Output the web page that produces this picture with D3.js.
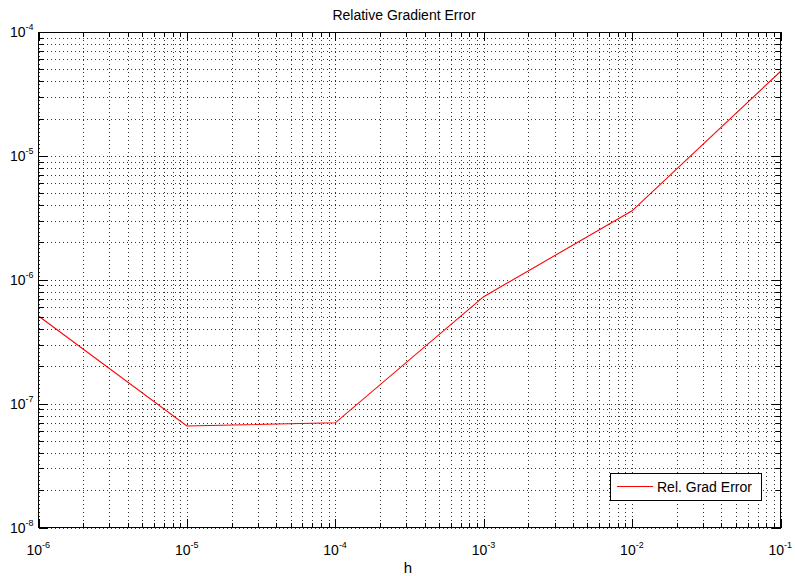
<!DOCTYPE html>
<html><head><meta charset="utf-8">
<script src="https://cdn.jsdelivr.net/npm/d3@7/dist/d3.min.js"></script>
<style>
body{margin:0;background:#fff;}
text{font-family:"Liberation Sans",Arial,sans-serif;fill:#000;}
</style></head>
<body>
<script>
const hValues = [1e-6, 1e-5, 1e-4, 1e-3, 1e-2, 1e-1];
const relGradError = [5.1e-7, 6.6e-8, 7.0e-8, 7.3e-7, 3.6e-6, 4.8e-5];
const xTickExps = [-6, -5, -4, -3, -2, -1];
const yTickExps = [-8, -7, -6, -5, -4];
const titleText = "Relative Gradient Error";
const xLabelText = "h";
const legendText = "Rel. Grad Error";

const W = 795, H = 576;
const m = {left: 38.5, right: 780.5, top: 32, bottom: 527.5};

const svg = d3.select("body").append("svg").attr("width", W).attr("height", H);

const x = d3.scaleLog().domain([1e-6, 1e-1]).range([m.left, m.right]);
const y = d3.scaleLog().domain([1e-8, 1e-4]).range([m.bottom, m.top]);

function logTicks(lo, hi){
  const major = [], minor = [];
  for(let e = lo; e <= hi; e++){
    major.push(Math.pow(10, e));
    if(e < hi) for(let k = 2; k <= 9; k++) minor.push(k * Math.pow(10, e));
  }
  return {major, minor};
}
const xt = logTicks(xTickExps[0], xTickExps[xTickExps.length-1]);
const yt = logTicks(yTickExps[0], yTickExps[yTickExps.length-1]);

const grid = svg.append("g").attr("stroke", "#000").attr("stroke-width", 1)
  .attr("stroke-dasharray", "1,3").attr("shape-rendering", "crispEdges").attr("opacity", 0.8);
xt.major.concat(xt.minor).forEach(v => {
  const px = Math.round(x(v)) + 0.5;
  grid.append("line").attr("x1", px).attr("x2", px).attr("y1", m.top).attr("y2", m.bottom);
});
yt.major.concat(yt.minor).forEach(v => {
  const py = Math.round(y(v)) + 0.5;
  grid.append("line").attr("y1", py).attr("y2", py).attr("x1", m.left).attr("x2", m.right);
});

const line = d3.line().x((d,i) => x(hValues[i])).y(d => y(d));
svg.append("path").datum(relGradError).attr("d", line)
  .attr("fill", "none").attr("stroke", "#ff0000").attr("stroke-width", 1.1);

const tk = svg.append("g").attr("stroke", "#000").attr("stroke-width", 1).attr("shape-rendering", "crispEdges");
function xTicks(vals, len){
  vals.forEach(v => {
    const px = Math.round(x(v)) + 0.5;
    tk.append("line").attr("x1", px).attr("x2", px).attr("y1", m.bottom).attr("y2", m.bottom - len);
    tk.append("line").attr("x1", px).attr("x2", px).attr("y1", m.top).attr("y2", m.top + len);
  });
}
function yTicks(vals, len){
  vals.forEach(v => {
    const py = Math.round(y(v)) + 0.5;
    tk.append("line").attr("y1", py).attr("y2", py).attr("x1", m.left).attr("x2", m.left + len);
    tk.append("line").attr("y1", py).attr("y2", py).attr("x1", m.right).attr("x2", m.right - len);
  });
}
xTicks(xt.minor, 5); xTicks(xt.major, 9);
yTicks(yt.minor, 5); yTicks(yt.major, 9);

svg.append("rect").attr("x", m.left).attr("y", m.top)
  .attr("width", m.right - m.left).attr("height", m.bottom - m.top)
  .attr("fill", "none").attr("stroke", "#000").attr("shape-rendering", "crispEdges");

function powLabel(g, e, px, py, anchor){
  const t = g.append("text").attr("x", px).attr("y", py).attr("font-size", 14).attr("text-anchor", anchor);
  t.append("tspan").text("10");
  t.append("tspan").attr("font-size", 9).attr("dy", -7).text("-" + Math.abs(e));
}
const lab = svg.append("g");
xTickExps.forEach(e => {
  powLabel(lab, e, x(Math.pow(10, e)) - 12, 555, "start");
});
yTickExps.forEach(e => {
  powLabel(lab, e, 10, y(Math.pow(10, e)) + 5, "start");
});

svg.append("text").attr("x", 404).attr("y", 20).attr("text-anchor", "middle")
  .attr("font-size", 14).text(titleText);
svg.append("text").attr("x", 408).attr("y", 573).attr("text-anchor", "middle")
  .attr("font-size", 15).text(xLabelText);

const lg = svg.append("g");
lg.append("rect").attr("x", 610.5).attr("y", 473.5).attr("width", 151).attr("height", 27)
  .attr("fill", "#fff").attr("stroke", "#000").attr("shape-rendering", "crispEdges");
lg.append("line").attr("x1", 617).attr("x2", 653).attr("y1", 486.5).attr("y2", 486.5)
  .attr("stroke", "#ff0000").attr("stroke-width", 1);
lg.append("text").attr("x", 657).attr("y", 492).attr("font-size", 14).text(legendText);
</script>
</body></html>
